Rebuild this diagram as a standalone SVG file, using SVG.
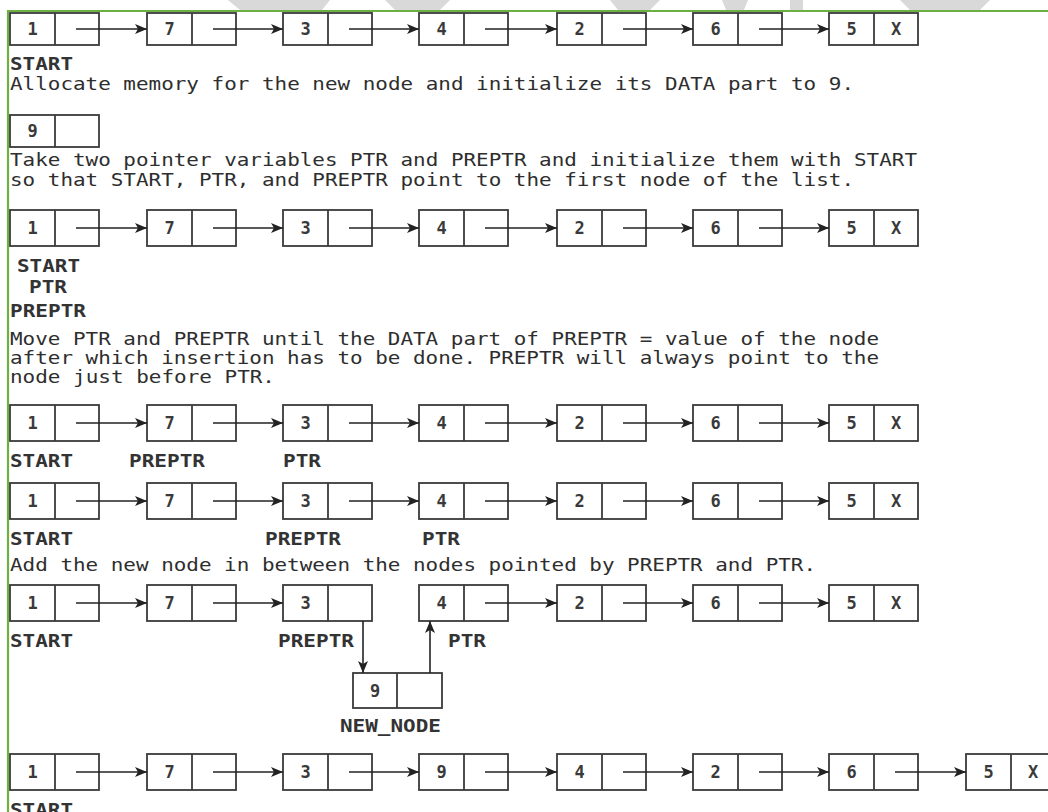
<svg xmlns="http://www.w3.org/2000/svg" width="1048" height="812" viewBox="0 0 1048 812">
<defs>
<marker id="ah" markerUnits="userSpaceOnUse" markerWidth="13" markerHeight="10" refX="12" refY="5" orient="auto">
<path d="M0,0 L12,5 L0,10 L3,5 z" fill="#222"/>
</marker>
<style>
.box{fill:#fff;stroke:#3a3a3a;stroke-width:1.8}
.dv{stroke:#3a3a3a;stroke-width:1.8}
.v{font-family:"DejaVu Sans Mono","Liberation Mono",monospace;font-size:17px;font-weight:bold;fill:#3a3a3a;text-anchor:middle}
.t{font-family:"DejaVu Sans Mono","Liberation Mono",monospace;font-size:17px;fill:#2e2e2e}
.lb{font-family:"DejaVu Sans Mono","Liberation Mono",monospace;font-size:17px;font-weight:bold;fill:#333}
.ar{stroke:#222;stroke-width:1.6;fill:none;marker-end:url(#ah)}
.wm{fill:#d9d9d9}
</style>
</defs>
<rect width="1048" height="812" fill="#fff"/>
<g id="watermark">
<polygon class="wm" points="228,0 330,0 322,10 240,10"/>
<polygon class="wm" points="385,0 450,0 440,10 395,10"/>
<polygon class="wm" points="610,0 660,0 650,10 618,10"/>
<polygon class="wm" points="722,0 748,0 744,10 726,10"/>
<polygon class="wm" points="790,0 803,0 803,10 790,10"/>
<polygon class="wm" points="900,0 990,0 980,10 910,10"/>
</g>
<g id="frame">
<line x1="7" y1="11" x2="1048" y2="11" stroke="#6cb043" stroke-width="2"/>
<line x1="8" y1="10" x2="8" y2="812" stroke="#6cb043" stroke-width="2.2"/>
</g>

<g id="row1">
<g id="r1n1"><rect class="box" x="10" y="13" width="89" height="32"/><line class="dv" x1="55" y1="13" x2="55" y2="45"/><text class="v" x="32.5" y="35">1</text></g>
<g id="r1n2"><rect class="box" x="147" y="13" width="89" height="32"/><line class="dv" x1="192" y1="13" x2="192" y2="45"/><text class="v" x="169.5" y="35">7</text></g>
<g id="r1n3"><rect class="box" x="283" y="13" width="89" height="32"/><line class="dv" x1="328" y1="13" x2="328" y2="45"/><text class="v" x="305.5" y="35">3</text></g>
<g id="r1n4"><rect class="box" x="419" y="13" width="89" height="32"/><line class="dv" x1="464" y1="13" x2="464" y2="45"/><text class="v" x="441.5" y="35">4</text></g>
<g id="r1n5"><rect class="box" x="557" y="13" width="89" height="32"/><line class="dv" x1="602" y1="13" x2="602" y2="45"/><text class="v" x="579.5" y="35">2</text></g>
<g id="r1n6"><rect class="box" x="693" y="13" width="89" height="32"/><line class="dv" x1="738" y1="13" x2="738" y2="45"/><text class="v" x="715.5" y="35">6</text></g>
<g id="r1n7"><rect class="box" x="829" y="13" width="89" height="32"/><line class="dv" x1="874" y1="13" x2="874" y2="45"/><text class="v" x="851.5" y="35">5</text><text class="v" x="896" y="35">X</text></g>
</g>

<g id="newnode1"><rect class="box" x="10" y="115" width="89" height="32"/><line class="dv" x1="55" y1="115" x2="55" y2="147"/><text class="v" x="32.5" y="137">9</text></g>

<g id="row3">
<g id="r3n1"><rect class="box" x="10" y="210" width="89" height="36"/><line class="dv" x1="55" y1="210" x2="55" y2="246"/><text class="v" x="32.5" y="234">1</text></g>
<g id="r3n2"><rect class="box" x="147" y="210" width="89" height="36"/><line class="dv" x1="192" y1="210" x2="192" y2="246"/><text class="v" x="169.5" y="234">7</text></g>
<g id="r3n3"><rect class="box" x="283" y="210" width="89" height="36"/><line class="dv" x1="328" y1="210" x2="328" y2="246"/><text class="v" x="305.5" y="234">3</text></g>
<g id="r3n4"><rect class="box" x="419" y="210" width="89" height="36"/><line class="dv" x1="464" y1="210" x2="464" y2="246"/><text class="v" x="441.5" y="234">4</text></g>
<g id="r3n5"><rect class="box" x="557" y="210" width="89" height="36"/><line class="dv" x1="602" y1="210" x2="602" y2="246"/><text class="v" x="579.5" y="234">2</text></g>
<g id="r3n6"><rect class="box" x="693" y="210" width="89" height="36"/><line class="dv" x1="738" y1="210" x2="738" y2="246"/><text class="v" x="715.5" y="234">6</text></g>
<g id="r3n7"><rect class="box" x="829" y="210" width="89" height="36"/><line class="dv" x1="874" y1="210" x2="874" y2="246"/><text class="v" x="851.5" y="234">5</text><text class="v" x="896" y="234">X</text></g>
</g>

<g id="row4">
<g id="r4n1"><rect class="box" x="10" y="405" width="89" height="36"/><line class="dv" x1="55" y1="405" x2="55" y2="441"/><text class="v" x="32.5" y="429">1</text></g>
<g id="r4n2"><rect class="box" x="147" y="405" width="89" height="36"/><line class="dv" x1="192" y1="405" x2="192" y2="441"/><text class="v" x="169.5" y="429">7</text></g>
<g id="r4n3"><rect class="box" x="283" y="405" width="89" height="36"/><line class="dv" x1="328" y1="405" x2="328" y2="441"/><text class="v" x="305.5" y="429">3</text></g>
<g id="r4n4"><rect class="box" x="419" y="405" width="89" height="36"/><line class="dv" x1="464" y1="405" x2="464" y2="441"/><text class="v" x="441.5" y="429">4</text></g>
<g id="r4n5"><rect class="box" x="557" y="405" width="89" height="36"/><line class="dv" x1="602" y1="405" x2="602" y2="441"/><text class="v" x="579.5" y="429">2</text></g>
<g id="r4n6"><rect class="box" x="693" y="405" width="89" height="36"/><line class="dv" x1="738" y1="405" x2="738" y2="441"/><text class="v" x="715.5" y="429">6</text></g>
<g id="r4n7"><rect class="box" x="829" y="405" width="89" height="36"/><line class="dv" x1="874" y1="405" x2="874" y2="441"/><text class="v" x="851.5" y="429">5</text><text class="v" x="896" y="429">X</text></g>
</g>

<g id="row5">
<g id="r5n1"><rect class="box" x="10" y="483" width="89" height="36"/><line class="dv" x1="55" y1="483" x2="55" y2="519"/><text class="v" x="32.5" y="507">1</text></g>
<g id="r5n2"><rect class="box" x="147" y="483" width="89" height="36"/><line class="dv" x1="192" y1="483" x2="192" y2="519"/><text class="v" x="169.5" y="507">7</text></g>
<g id="r5n3"><rect class="box" x="283" y="483" width="89" height="36"/><line class="dv" x1="328" y1="483" x2="328" y2="519"/><text class="v" x="305.5" y="507">3</text></g>
<g id="r5n4"><rect class="box" x="419" y="483" width="89" height="36"/><line class="dv" x1="464" y1="483" x2="464" y2="519"/><text class="v" x="441.5" y="507">4</text></g>
<g id="r5n5"><rect class="box" x="557" y="483" width="89" height="36"/><line class="dv" x1="602" y1="483" x2="602" y2="519"/><text class="v" x="579.5" y="507">2</text></g>
<g id="r5n6"><rect class="box" x="693" y="483" width="89" height="36"/><line class="dv" x1="738" y1="483" x2="738" y2="519"/><text class="v" x="715.5" y="507">6</text></g>
<g id="r5n7"><rect class="box" x="829" y="483" width="89" height="36"/><line class="dv" x1="874" y1="483" x2="874" y2="519"/><text class="v" x="851.5" y="507">5</text><text class="v" x="896" y="507">X</text></g>
</g>

<g id="row6">
<g id="r6n1"><rect class="box" x="10" y="585" width="89" height="36"/><line class="dv" x1="55" y1="585" x2="55" y2="621"/><text class="v" x="32.5" y="609">1</text></g>
<g id="r6n2"><rect class="box" x="147" y="585" width="89" height="36"/><line class="dv" x1="192" y1="585" x2="192" y2="621"/><text class="v" x="169.5" y="609">7</text></g>
<g id="r6n3"><rect class="box" x="283" y="585" width="89" height="36"/><line class="dv" x1="328" y1="585" x2="328" y2="621"/><text class="v" x="305.5" y="609">3</text></g>
<g id="r6n4"><rect class="box" x="419" y="585" width="89" height="36"/><line class="dv" x1="464" y1="585" x2="464" y2="621"/><text class="v" x="441.5" y="609">4</text></g>
<g id="r6n5"><rect class="box" x="557" y="585" width="89" height="36"/><line class="dv" x1="602" y1="585" x2="602" y2="621"/><text class="v" x="579.5" y="609">2</text></g>
<g id="r6n6"><rect class="box" x="693" y="585" width="89" height="36"/><line class="dv" x1="738" y1="585" x2="738" y2="621"/><text class="v" x="715.5" y="609">6</text></g>
<g id="r6n7"><rect class="box" x="829" y="585" width="89" height="36"/><line class="dv" x1="874" y1="585" x2="874" y2="621"/><text class="v" x="851.5" y="609">5</text><text class="v" x="896" y="609">X</text></g>
<g id="newnode2"><rect class="box" x="353" y="673" width="89" height="35"/><line class="dv" x1="397" y1="673" x2="397" y2="708"/><text class="v" x="375" y="697">9</text></g>
</g>

<g id="row7">
<g id="r7n1"><rect class="box" x="10" y="754" width="89" height="36"/><line class="dv" x1="55" y1="754" x2="55" y2="790"/><text class="v" x="32.5" y="778">1</text></g>
<g id="r7n2"><rect class="box" x="147" y="754" width="89" height="36"/><line class="dv" x1="192" y1="754" x2="192" y2="790"/><text class="v" x="169.5" y="778">7</text></g>
<g id="r7n3"><rect class="box" x="283" y="754" width="89" height="36"/><line class="dv" x1="328" y1="754" x2="328" y2="790"/><text class="v" x="305.5" y="778">3</text></g>
<g id="r7n4"><rect class="box" x="419" y="754" width="89" height="36"/><line class="dv" x1="464" y1="754" x2="464" y2="790"/><text class="v" x="441.5" y="778">9</text></g>
<g id="r7n5"><rect class="box" x="557" y="754" width="89" height="36"/><line class="dv" x1="602" y1="754" x2="602" y2="790"/><text class="v" x="579.5" y="778">4</text></g>
<g id="r7n6"><rect class="box" x="693" y="754" width="89" height="36"/><line class="dv" x1="738" y1="754" x2="738" y2="790"/><text class="v" x="715.5" y="778">2</text></g>
<g id="r7n7"><rect class="box" x="829" y="754" width="89" height="36"/><line class="dv" x1="874" y1="754" x2="874" y2="790"/><text class="v" x="851.5" y="778">6</text></g>
<g id="r7n8"><rect class="box" x="966" y="754" width="89" height="36"/><line class="dv" x1="1011" y1="754" x2="1011" y2="790"/><text class="v" x="988.5" y="778">5</text><text class="v" x="1033" y="778">X</text></g>
</g>

<g id="connectors">
<line class="ar" x1="76" y1="29" x2="147" y2="29"/>
<line class="ar" x1="213" y1="29" x2="283" y2="29"/>
<line class="ar" x1="349" y1="29" x2="419" y2="29"/>
<line class="ar" x1="485" y1="29" x2="557" y2="29"/>
<line class="ar" x1="623" y1="29" x2="693" y2="29"/>
<line class="ar" x1="759" y1="29" x2="829" y2="29"/>

<line class="ar" x1="76" y1="228" x2="147" y2="228"/>
<line class="ar" x1="213" y1="228" x2="283" y2="228"/>
<line class="ar" x1="349" y1="228" x2="419" y2="228"/>
<line class="ar" x1="485" y1="228" x2="557" y2="228"/>
<line class="ar" x1="623" y1="228" x2="693" y2="228"/>
<line class="ar" x1="759" y1="228" x2="829" y2="228"/>

<line class="ar" x1="76" y1="423" x2="147" y2="423"/>
<line class="ar" x1="213" y1="423" x2="283" y2="423"/>
<line class="ar" x1="349" y1="423" x2="419" y2="423"/>
<line class="ar" x1="485" y1="423" x2="557" y2="423"/>
<line class="ar" x1="623" y1="423" x2="693" y2="423"/>
<line class="ar" x1="759" y1="423" x2="829" y2="423"/>

<line class="ar" x1="76" y1="501" x2="147" y2="501"/>
<line class="ar" x1="213" y1="501" x2="283" y2="501"/>
<line class="ar" x1="349" y1="501" x2="419" y2="501"/>
<line class="ar" x1="485" y1="501" x2="557" y2="501"/>
<line class="ar" x1="623" y1="501" x2="693" y2="501"/>
<line class="ar" x1="759" y1="501" x2="829" y2="501"/>

<line class="ar" x1="76" y1="603" x2="147" y2="603"/>
<line class="ar" x1="213" y1="603" x2="283" y2="603"/>
<line class="ar" x1="485" y1="603" x2="557" y2="603"/>
<line class="ar" x1="623" y1="603" x2="693" y2="603"/>
<line class="ar" x1="759" y1="603" x2="829" y2="603"/>
<line class="ar" x1="363" y1="621" x2="363" y2="673"/>
<line class="ar" x1="430" y1="673" x2="430" y2="621"/>

<line class="ar" x1="76" y1="772" x2="147" y2="772"/>
<line class="ar" x1="213" y1="772" x2="283" y2="772"/>
<line class="ar" x1="349" y1="772" x2="419" y2="772"/>
<line class="ar" x1="485" y1="772" x2="557" y2="772"/>
<line class="ar" x1="623" y1="772" x2="693" y2="772"/>
<line class="ar" x1="759" y1="772" x2="829" y2="772"/>
<line class="ar" x1="895" y1="772" x2="966" y2="772"/>
</g>

<g id="texts">
<text class="lb" x="10" y="70" textLength="63" lengthAdjust="spacingAndGlyphs">START</text>
<text class="t" x="10" y="90" textLength="844" lengthAdjust="spacingAndGlyphs">Allocate memory for the new node and initialize its DATA part to 9.</text>
<text class="t" x="10" y="166" textLength="907" lengthAdjust="spacingAndGlyphs">Take two pointer variables PTR and PREPTR and initialize them with START</text>
<text class="t" x="10" y="186" textLength="844" lengthAdjust="spacingAndGlyphs">so that START, PTR, and PREPTR point to the first node of the list.</text>
<text class="lb" x="17" y="272" textLength="63" lengthAdjust="spacingAndGlyphs">START</text>
<text class="lb" x="29" y="293" textLength="38" lengthAdjust="spacingAndGlyphs">PTR</text>
<text class="lb" x="10" y="317" textLength="76" lengthAdjust="spacingAndGlyphs">PREPTR</text>
<text class="t" x="10" y="345" textLength="869" lengthAdjust="spacingAndGlyphs">Move PTR and PREPTR until the DATA part of PREPTR = value of the node</text>
<text class="t" x="10" y="364" textLength="869" lengthAdjust="spacingAndGlyphs">after which insertion has to be done. PREPTR will always point to the</text>
<text class="t" x="10" y="383" textLength="265" lengthAdjust="spacingAndGlyphs">node just before PTR.</text>
<text class="lb" x="10" y="467" textLength="63" lengthAdjust="spacingAndGlyphs">START</text>
<text class="lb" x="129" y="467" textLength="76" lengthAdjust="spacingAndGlyphs">PREPTR</text>
<text class="lb" x="283" y="467" textLength="38" lengthAdjust="spacingAndGlyphs">PTR</text>
<text class="lb" x="10" y="545" textLength="63" lengthAdjust="spacingAndGlyphs">START</text>
<text class="lb" x="265" y="545" textLength="76" lengthAdjust="spacingAndGlyphs">PREPTR</text>
<text class="lb" x="422" y="545" textLength="38" lengthAdjust="spacingAndGlyphs">PTR</text>
<text class="t" x="10" y="571" textLength="806" lengthAdjust="spacingAndGlyphs">Add the new node in between the nodes pointed by PREPTR and PTR.</text>
<text class="lb" x="10" y="647" textLength="63" lengthAdjust="spacingAndGlyphs">START</text>
<text class="lb" x="278" y="647" textLength="76" lengthAdjust="spacingAndGlyphs">PREPTR</text>
<text class="lb" x="448" y="647" textLength="38" lengthAdjust="spacingAndGlyphs">PTR</text>
<text class="lb" x="340" y="732" textLength="101" lengthAdjust="spacingAndGlyphs">NEW_NODE</text>
<text class="lb" x="10" y="816" textLength="63" lengthAdjust="spacingAndGlyphs">START</text>
</g>
</svg>
